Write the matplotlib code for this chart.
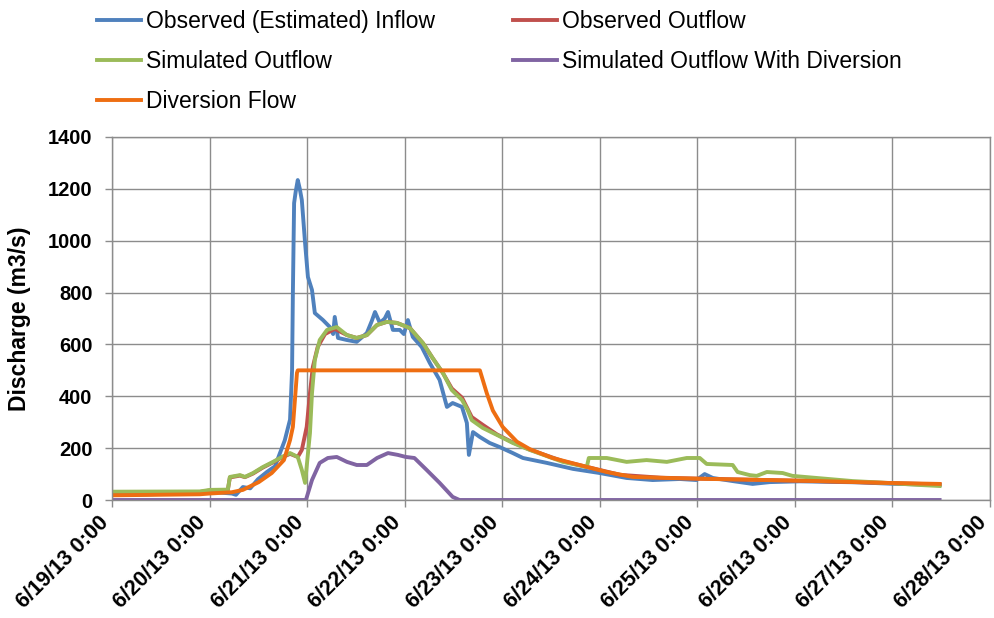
import datetime

import matplotlib
matplotlib.use('Agg')
import matplotlib.pyplot as plt
import matplotlib.dates as mdates
import matplotlib.transforms as mtransforms
from matplotlib.ticker import FuncFormatter

START = datetime.datetime(2013, 6, 19)

# hours after 6/19/13 0:00, discharge in m3/s
inflow_h = [0, 9.3, 21.6, 25.3, 29.5, 30.5, 32.2, 34, 35.9, 38.1, 40.1, 41.3, 42.5, 43.8,
            44.3, 44.5, 44.8, 45.2, 45.7, 46.2, 46.7, 47.5, 48.2, 49.2, 49.9, 51.9, 53.6,
            54.4, 54.8, 55.6, 57.8, 60.2, 62.7, 63.9, 64.7, 65.9, 67.1, 67.9, 69.1, 70.8,
            71.8, 72.8, 74.0, 76.2, 78.2, 80.6, 82.4, 83.8, 86.1, 87.3, 87.8, 88.8, 90.5,
            92.9, 95.4, 98.6, 101.1, 107, 113.4, 120, 126.6, 133, 139.7, 143.8, 145.8,
            147.8, 152.7, 157.6, 161.8, 169.2, 176.5, 183.9, 191.3, 198.7, 203.6]
inflow_q = [20, 22, 28, 30, 25, 20, 50, 45, 80, 108, 130, 180, 230, 310,
            500, 800, 1145, 1190, 1234, 1200, 1157, 991, 860, 810, 721, 694, 667,
            640, 706, 625, 617, 610, 644, 690, 725, 683, 700, 725, 656, 656,
            640, 694, 629, 590, 528, 463, 359, 374, 359, 297, 174, 262, 243,
            220, 204, 181, 162, 143, 120, 104, 85, 77, 81, 77, 100,
            85, 73, 62, 69, 72, 70, 68, 63, 60, 58]

obs_out_h = [0, 21.6, 24.1, 28.5, 29, 31.5, 32.7, 34.7, 37.1, 39.6, 41.8, 43.8, 45.7, 46.7,
             47.9, 48.7, 49.4, 50.6, 52.4, 54.8, 57.8, 60.2, 62.7, 65.2, 67.6, 70.1, 73.3,
             76.5, 78.9, 81.4, 83.6, 86.1, 88.5, 91.2, 94.7, 98.6, 102.8, 110.9, 117.3, 125,
             135, 145, 155, 170, 185, 203.6]
obs_out_q = [30, 31, 37, 39, 87, 94, 88, 102, 125, 145, 164, 178, 166, 193,
             282, 412, 513, 590, 640, 660, 636, 625, 636, 675, 687, 683, 663,
             605, 547, 490, 430, 395, 320, 290, 253, 222, 194, 150, 126, 97,
             86, 82, 79, 74, 68, 60]

sim_out_h = [0, 21.6, 24.1, 28.5, 29, 31.5, 32.7, 34.7, 37.1, 39.6, 41.8, 43.8, 45.7, 46.7,
             47.5, 48.7, 49.2, 49.9, 51.1, 52.9, 55.3, 57.8, 60.2, 62.7, 65.2, 67.6, 70.1,
             73.3, 76.5, 78.9, 81.4, 83.6, 86.1, 87.5, 88.5, 91.2, 94.7, 98.6, 102.8, 110.9,
             116.8, 117.3, 121.7, 126.6, 131.5, 136.5, 141.4, 144.6, 146.3, 152.7, 153.9,
             156.9, 158.6, 161.1, 165, 167.4, 173.3, 182.2, 190.6, 198.7, 203.6]
sim_out_q = [32, 33, 39, 40, 89, 96, 89, 104, 127, 147, 166, 181, 166, 116,
             66, 258, 412, 540, 617, 656, 667, 636, 625, 636, 675, 687, 683,
             663, 605, 547, 490, 424, 386, 347, 308, 278, 251, 220, 193, 147,
             127, 162, 162, 147, 154, 147, 162, 162, 139, 135, 108,
             96, 93, 108, 104, 93, 85, 73, 66, 58, 54]

sim_div_h = [0, 47.7, 49.2, 51.1, 53.1, 55.3, 57.8, 60.2, 62.7, 65.2, 67.9, 70.3, 72.3,
             74.4, 77.4, 80.6, 83.8, 85.5, 203.6]
sim_div_q = [0, 0, 77, 143, 162, 166, 147, 135, 135, 162, 181, 174, 166,
             162, 116, 66, 12, 0, 0]

diversion_h = [0, 21.6, 24, 29.5, 32.2, 36.1, 39.3, 42.3, 43.8, 44.5, 45.5, 45.7, 90.5,
               92.2, 93.7, 96.1, 99.6, 102.8, 108.4, 115, 121.7, 128.1, 136.5, 147.8,
               174, 190.6, 203.6]
diversion_q = [18, 22, 25, 30, 39, 69, 104, 154, 231, 282, 490, 500, 500,
               412, 345, 282, 225, 196, 162, 135, 108, 89, 85, 81,
               73, 66, 62]

names = ['Observed (Estimated) Inflow', 'Observed Outflow', 'Simulated Outflow',
         'Simulated Outflow With Diversion', 'Diversion Flow']
colors = ['#4F81BD', '#C0504D', '#9BBB59', '#8064A2', '#EE6E12']
series = [(inflow_h, inflow_q), (obs_out_h, obs_out_q), (sim_out_h, sim_out_q),
          (sim_div_h, sim_div_q), (diversion_h, diversion_q)]


def to_dates(hours):
    return [START + datetime.timedelta(hours=h) for h in hours]


plt.rcParams['font.family'] = ['Liberation Sans', 'DejaVu Sans']
GRID = '#8C8C8C'

fig = plt.figure(figsize=(9.94, 6.18), dpi=100)
ax = fig.add_axes([112 / 994, 118 / 618, 878 / 994, 363 / 618])

lines = []
for (h, q), name, c in zip(series, names, colors):
    ln, = ax.plot(to_dates(h), q, color=c, lw=2.8, label=name, solid_joinstyle='round')
    lines.append(ln)

ax.set_xlim(START, START + datetime.timedelta(days=9))
ax.set_ylim(0, 1400)
ax.set_yticks(range(0, 1401, 200))
ax.xaxis.set_major_locator(mdates.DayLocator())
ax.xaxis.set_major_formatter(FuncFormatter(
    lambda v, pos: (lambda d: f'{d.month}/{d.day}/{d:%y} {d.hour}:{d:%M}')(mdates.num2date(v))))

ax.grid(True, color=GRID, lw=1)
ax.set_axisbelow(True)
for s in ax.spines.values():
    s.set_color(GRID)
    s.set_linewidth(1)
ax.tick_params(axis='both', color=GRID, length=5, width=1)
ax.tick_params(axis='y', labelsize=14.5, pad=9)
ax.tick_params(axis='x', labelsize=15.5, pad=4)
for lab in ax.get_yticklabels():
    lab.set_fontweight('bold')
# nudge the slanted date labels left so the last one stays inside the figure
shift = mtransforms.ScaledTranslation(-14 / 100, 0, fig.dpi_scale_trans)
for lab in ax.get_xticklabels():
    lab.set_fontweight('bold')
    lab.set_rotation(45)
    lab.set_ha('right')
    lab.set_rotation_mode('anchor')
    lab.set_transform(lab.get_transform() + shift)

ax.set_ylabel('Discharge (m3/s)', fontsize=16.5, fontweight='bold', labelpad=12)

# Excel fills the legend row by row
order = [0, 2, 4, 1, 3]
fig.legend([lines[i] for i in order], [names[i] for i in order],
           loc='upper left', bbox_to_anchor=(97 / 994, 1 - 10 / 618), ncol=2, frameon=False,
           fontsize=16.5, handlelength=1.9, handletextpad=0.25, columnspacing=3.4,
           labelspacing=0.75, borderpad=0, borderaxespad=0)

plt.savefig('out.png', dpi=100)
